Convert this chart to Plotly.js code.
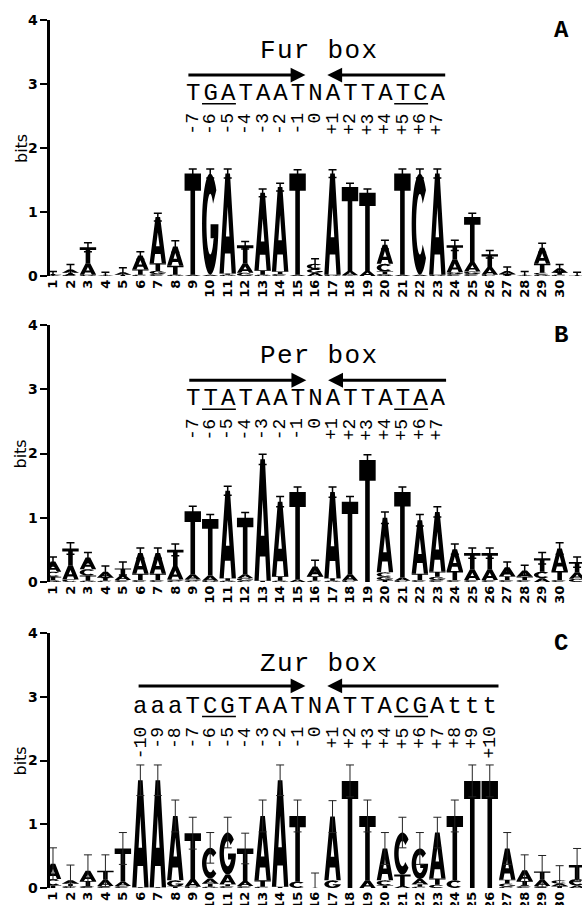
<!DOCTYPE html>
<html><head><meta charset="utf-8">
<script src="https://cdn.plot.ly/plotly-3.0.1.min.js"></script>
<style>html,body{margin:0;padding:0;background:#fff}#chart{width:582px;height:905px}</style>
</head><body><div id="chart"></div>
<script>
const positions = [1,2,3,4,5,6,7,8,9,10,11,12,13,14,15,16,17,18,19,20,21,22,23,24,25,26,27,28,29,30,31];
const posLabels = ["1","2","3","4","5","6","7","8","9","10","11","12","13","14","15","16","17","18","19","20","21","22","23","24","25","26","27","28","29","30","31"];
const yTicks = [0,1,2,3,4];

// Panel A : Fur box
const furA = [.01,.05,.18,.01,.04,.22,.72,.30,.02,.02,1.56,.15,1.21,1.32,.02,.05,1.58,.07,.08,.30,.02,.02,1.58,.20,.15,.12,.05,.01,.25,.07,0];
const furC = [0,.02,0,0,0,.02,.03,0,0,0,0,0,0,.03,0,.08,0,.01,0,.12,0,1.58,0,.03,.03,.02,0,0,.03,.02,0];
const furG = [0,0,.02,0,0,0,.05,.02,0,1.58,.02,.05,.02,0,0,.06,.02,0,0,.03,0,0,.02,.03,.04,0,0,0,.02,0,0];
const furT = [.02,.03,.25,.01,.02,.08,.12,.14,1.58,0,.02,.28,.07,.04,1.58,0,0,1.31,1.22,.04,1.58,0,0,.22,.70,.20,.03,.01,.14,.03,.01];
const furErr = [.04,.08,.07,.04,.07,.06,.06,.09,.07,.07,.07,.06,.06,.06,.06,.08,.06,.06,.06,.07,.07,.07,.07,.08,.06,.06,.06,.05,.07,.06,.05];
const furSeq = "TGATAATNATTATCA";
const furNums = ["-7","-6","-5","-4","-3","-2","-1","0","+1","+2","+3","+4","+5","+6","+7"];

// Panel B : Per box
const perA = [.16,.22,.18,.09,.08,.32,.32,.21,.08,.08,1.36,.06,1.89,1.16,.04,.15,1.34,.10,0,.85,.05,.83,.93,.34,.17,.17,.14,.10,.06,.35,.10];
const perC = [.08,.04,.10,.02,.03,.03,.03,.02,.02,0,0,.02,0,0,0,.02,0,.02,0,.07,.02,.03,.03,.03,.03,.03,.03,.03,.10,.03,.05];
const perG = [.03,0,.02,0,0,0,0,.02,.02,.02,.02,.04,0,.02,0,0,.02,0,0,.05,0,0,.05,0,0,0,0,0,0,0,0];
const perT = [.05,.26,.08,.05,.10,.10,.10,.25,.98,.88,.04,.88,.02,.07,1.36,.07,.04,1.13,1.90,.03,1.33,.10,.08,.14,.25,.25,.06,.05,.21,.14,.16];
const perErr = [.07,.09,.08,.09,.10,.08,.08,.09,.08,.07,.07,.08,.08,.08,.08,.10,.08,.08,.08,.09,.08,.09,.08,.08,.08,.08,.08,.08,.09,.09,.08];
const perSeq = "TTATAATNATTATAA";
const perNums = ["-7","-6","-5","-4","-3","-2","-1","0","+1","+2","+3","+4","+5","+6","+7"];

// Panel C : Zur box
const zurA = [.24,.05,.16,.10,.07,1.68,1.68,1.01,.12,.08,.15,.08,1.01,1.67,0,0,1.00,0,.12,.50,.03,.08,.72,0,0,0,.49,.17,.10,.04,.04];
const zurC = [.10,.03,.03,.03,.03,0,0,0,.02,.48,.03,.03,.02,0,.10,0,0,0,0,.08,.66,.02,.05,.12,0,0,.02,.03,.03,.05,.10];
const zurG = [0,0,0,0,0,0,0,.10,0,.02,.66,0,0,0,0,0,.12,0,0,0,0,.48,0,0,0,0,.05,0,0,0,0];
const zurT = [.04,.04,.08,.14,.52,.01,.01,.02,.72,.05,.03,.51,.10,.02,1.03,.005,0,1.68,1.01,.04,.18,.04,.10,1.01,1.68,1.68,.06,.08,.13,.03,.22];
const zurErr = [.25,.24,.25,.25,.25,.24,.24,.25,.25,.24,.24,.24,.25,.24,.25,.23,.25,.25,.25,.25,.24,.25,.24,.25,.25,.25,.25,.24,.25,.23,.26];
const zurSeq = "aaaTCGTAATNATTACGAttt";
const zurNums = ["-10","-9","-8","-7","-6","-5","-4","-3","-2","-1","0","+1","+2","+3","+4","+5","+6","+7","+8","+9","+10"];

const panels = [
  {title:"Fur box", label:"A", seq:furSeq, seqStart:9, nums:furNums, under:[[10,11],[21,22]],
   A:furA, C:furC, G:furG, T:furT, err:furErr, arrR:[8.75,15.45], arrL:[23.45,16.7], arrY:3.14, numY:2.58,
   dom:[0.69503,0.97790], errColor:'#000', errW:1.5},
  {title:"Per box", label:"B", seq:perSeq, seqStart:9, nums:perNums, under:[[10,11],[21,22]],
   A:perA, C:perC, G:perG, T:perT, err:perErr, arrR:[8.8,15.5], arrL:[23.5,16.75], arrY:3.14, numY:2.58,
   dom:[0.35691,0.64088], errColor:'#000', errW:1.5},
  {title:"Zur box", label:"C", seq:zurSeq, seqStart:6, nums:zurNums, under:[[10,11],[21,22]],
   A:zurA, C:zurC, G:zurG, T:zurT, err:zurErr, arrR:[5.9,15.45], arrL:[26.5,16.7], arrY:3.17, numY:2.56,
   dom:[0.01878,0.30055], errColor:'#222', errW:1}
];

function arc(cx,cy,rx,ry,a0,a1,n){const pts=[];for(let i=0;i<=n;i++){const a=(a0+(a1-a0)*i/n)*Math.PI/180;pts.push([cx+rx*Math.cos(a),cy+ry*Math.sin(a)]);}return pts;}
const GLYPHS = {
  A: [[[0,0],[0.36,1],[0.64,1],[1,0],[0.74,0],[0.668,0.2],[0.332,0.2],[0.26,0]],[[0.393,0.37],[0.5,0.667],[0.607,0.37]]],
  T: [[[0,1],[1,1],[1,0.83],[0.64,0.83],[0.64,0],[0.36,0],[0.36,0.83],[0,0.83]]],
  C: [arc(.5,.5,.5,.5,42,318,44).concat(arc(.5,.5,.23,.3,318,42,32))],
  G: [arc(.5,.5,.5,.5,42,360,44).concat([[0.52,0.5],[0.52,0.36],[0.73,0.36]], arc(.5,.5,.23,.3,330,42,32))]
};
function glyphPath(letter,x0,w,y0,h){
  return GLYPHS[letter].map(sp=>sp.map((p,i)=>(i?'L':'M')+(x0+p[0]*w).toFixed(4)+','+(y0+p[1]*h).toFixed(4)).join('')+'Z').join('');
}

const BASES=['A','C','G','T'];
const shapes=[], annotations=[], traces=[];
const layout = {width:582,height:905,margin:{l:0,r:0,t:0,b:0},paper_bgcolor:'#fff',plot_bgcolor:'rgba(0,0,0,0)',showlegend:false};
const mono = 'Liberation Mono, Courier New, monospace';

panels.forEach((p,idx)=>{
  const s = idx===0?'':String(idx+1);
  const xr='x'+s, yr='y'+s;
  const totals=[];
  positions.forEach((pos,i)=>{
    const stack = BASES.map(b=>({b,h:p[b][i]})).filter(o=>o.h>0.003).sort((a,b)=>a.h-b.h);
    let y=0;
    stack.forEach(o=>{
      shapes.push({type:'path',xref:xr,yref:yr,path:glyphPath(o.b,pos-0.47,0.94,y,o.h),fillcolor:'#000',line:{width:0},fillrule:'evenodd',layer:'below'});
      y+=o.h;
    });
    totals.push(y);
  });
  traces.push({type:'scatter',mode:'markers',x:positions,y:totals,xaxis:xr,yaxis:yr,
    marker:{size:2,color:'rgba(0,0,0,0)'},hoverinfo:'skip',
    error_y:{type:'data',array:p.err,visible:true,color:p.errColor,thickness:p.errW,width:4}});

  layout['xaxis'+s]={domain:[0.0859,1],range:[0.828,31.28],anchor:yr,tickmode:'array',tickvals:positions,ticktext:posLabels,
    tickangle:-90,ticks:'',showline:false,showgrid:false,zeroline:false,fixedrange:true,
    tickfont:{family:'DejaVu Sans',size:13,color:'#000',weight:'bold'}};
  layout['yaxis'+s]={domain:p.dom,range:[0,4],anchor:xr,tickmode:'array',tickvals:yTicks,ticks:'outside',ticklen:7,tickwidth:2,tickcolor:'#000',
    showline:true,linewidth:2.5,linecolor:'#000',showgrid:false,zeroline:false,fixedrange:true,
    tickfont:{family:'DejaVu Sans',size:14,color:'#000',weight:'bold'}};

  // y axis label
  annotations.push({xref:'paper',yref:yr,x:21/582,xanchor:'center',yanchor:'middle',y:2,text:'bits',textangle:-90,showarrow:false,
    font:{family:'DejaVu Sans',size:16,color:'#000'}});
  // arrows
  const hl=0.85, hh=0.115;
  [[p.arrR[0],p.arrR[1],1],[p.arrL[0],p.arrL[1],-1]].forEach(([a,b,d])=>{
    shapes.push({type:'line',xref:xr,yref:yr,x0:a,x1:b-d*hl*0.8,y0:p.arrY,y1:p.arrY,line:{color:'#000',width:3}});
    shapes.push({type:'path',xref:xr,yref:yr,path:'M'+b+','+p.arrY+'L'+(b-d*hl)+','+(p.arrY+hh)+'L'+(b-d*hl)+','+(p.arrY-hh)+'Z',fillcolor:'#000',line:{width:0}});
  });
  // underlines
  p.under.forEach(([a,b])=>{
    shapes.push({type:'line',xref:xr,yref:yr,x0:a-0.47,x1:b+0.47,y0:2.69,y1:2.69,line:{color:'#000',width:1.5}});
  });
  // title
  annotations.push({xref:xr,yref:yr,x:16.25,y:3.52,text:'<span style="letter-spacing:1.3px">'+p.title+'</span>',showarrow:false,
    font:{family:mono,size:26,color:'#000'}});
  // consensus sequence
  annotations.push({xref:xr,yref:yr,x:p.seqStart-0.53,xanchor:'left',y:2.85,text:'<span style="letter-spacing:3.07px">'+p.seq+'</span>',showarrow:false,
    font:{family:mono,size:24,color:'#000'}});
  // numbering
  p.nums.forEach((n,i)=>{
    annotations.push({xref:xr,yref:yr,x:p.seqStart+i,y:p.numY,yanchor:'top',textangle:-90,text:n,showarrow:false,
      font:{family:mono,size:18,color:'#000'}});
  });
  // panel label
  annotations.push({xref:xr,yref:yr,x:30.1,y:3.84,text:'<b>'+p.label+'</b>',showarrow:false,font:{family:mono,size:24,color:'#000'}});
});
layout.shapes=shapes; layout.annotations=annotations;
Plotly.newPlot('chart',traces,layout,{displayModeBar:false,staticPlot:true});
</script></body></html>
